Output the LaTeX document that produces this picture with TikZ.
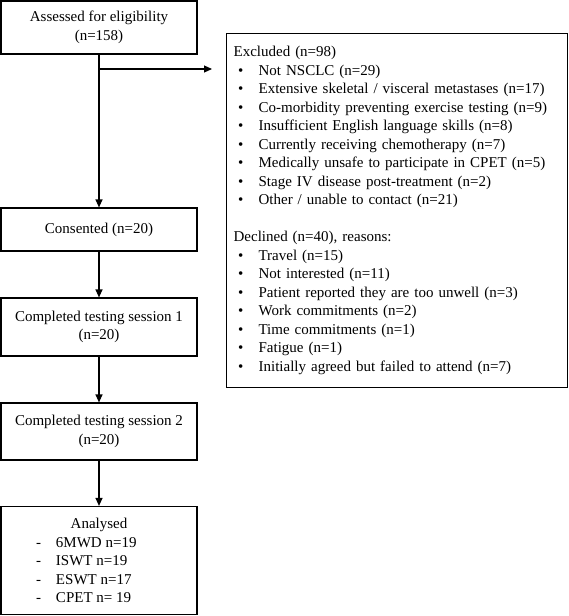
\documentclass[tikz,border=0pt]{standalone}
\usepackage{fontspec}
\setmainfont{Liberation Serif}
\usetikzlibrary{arrows.meta}
\newcommand\bl{\makebox[25pt][l]{\hspace{4.5pt}•}}
\newcommand\dl[1]{\makebox[126pt][l]{\makebox[20pt][l]{-}#1}}
\begin{document}
\begin{tikzpicture}[x=1pt,y=-1pt,
  box/.style={draw, line width=1.2pt, inner sep=0pt, align=center,
    font=\fontsize{15}{18.5}\selectfont},
  arr/.style={-{Triangle[length=8pt,width=7pt]}, line width=1.2pt}]
\useasboundingbox (0,0) rectangle (568,616);
\node[box, minimum width=196pt, minimum height=53pt] (a) at (99,27.5) {Assessed for eligibility\\(n=158)};
\node[box, minimum width=196pt, minimum height=43pt] (c) at (99,229.5) {Consented (n=20)};
\node[box, minimum width=196pt, minimum height=58pt] (s1) at (99,327) {Completed testing session 1\\(n=20)};
\node[box, minimum width=196pt, minimum height=57pt] (s2) at (99,431.5) {Completed testing session 2\\(n=20)};
\node[box, minimum width=196pt, minimum height=108pt] (an) at (99,560.5) {Analysed\\\dl{6MWD n=19}\\\dl{ISWT n=19}\\\dl{ESWT n=17}\\\dl{CPET n= 19}};
\node[box, anchor=north west, minimum width=341pt, minimum height=354pt, align=left, text width=327pt, inner xsep=7pt] (ex) at (226,33) {Excluded (n=98)\\
\bl Not NSCLC (n=29)\\
\bl Extensive skeletal / visceral metastases (n=17)\\
\bl Co-morbidity preventing exercise testing (n=9)\\
\bl Insufficient English language skills (n=8)\\
\bl Currently receiving chemotherapy (n=7)\\
\bl Medically unsafe to participate in CPET (n=5)\\
\bl Stage IV disease post-treatment (n=2)\\
\bl Other / unable to contact (n=21)\\
\mbox{}\\
Declined (n=40), reasons:\\
\bl Travel (n=15)\\
\bl Not interested (n=11)\\
\bl Patient reported they are too unwell (n=3)\\
\bl Work commitments (n=2)\\
\bl Time commitments (n=1)\\
\bl Fatigue (n=1)\\
\bl Initially agreed but failed to attend (n=7)};
\coordinate (br) at (99,69);
\coordinate (brend) at (212,69);
\draw[arr] (a) -- (c);
\draw[arr] (br) -- (brend);
\draw[arr] (c) -- (s1);
\draw[arr] (s1) -- (s2);
\draw[arr] (s2) -- (an);
\end{tikzpicture}
\end{document}
